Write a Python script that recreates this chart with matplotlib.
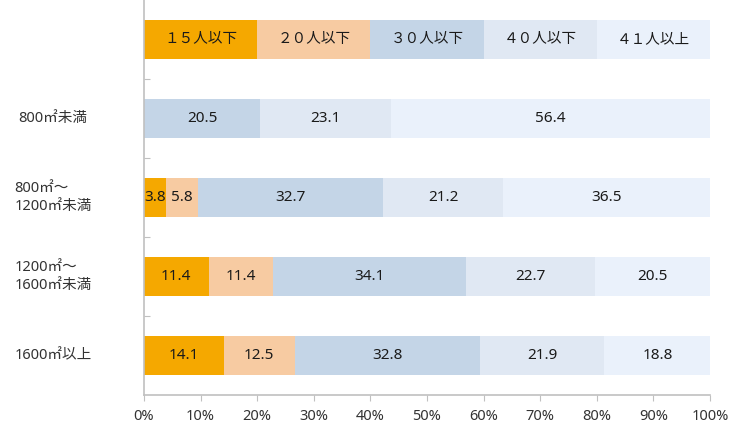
import matplotlib.pyplot as plt
import matplotlib.transforms as mtransforms
import numpy as np

plt.rcParams['font.family'] = ['Noto Sans', 'Noto Sans CJK JP', 'DejaVu Sans']

# rows from top to bottom
row_labels = ['', '800㎡未満', '800㎡～\n1200㎡未満', '1200㎡～\n1600㎡未満', '1600㎡以上']
group_names = ['１５人以下', '２０人以下', '３０人以下', '４０人以下', '４１人以上']
colors = ['#F5A800', '#F7CBA2', '#C4D5E7', '#E0E8F3', '#EAF1FB']

# the top row is the in-chart legend, equal widths
legend_row = [20, 20, 20, 20, 20]
s15 = [0, 3.8, 11.4, 14.1]
s20 = [0, 5.8, 11.4, 12.5]
s30 = [20.5, 32.7, 34.1, 32.8]
s40 = [23.1, 21.2, 22.7, 21.9]
s41 = [56.4, 36.5, 20.5, 18.8]

data = np.array([s15, s20, s30, s40, s41])
data = np.column_stack([legend_row, data])  # shape (5 groups, 5 rows)

fig = plt.figure(figsize=(7.37, 4.24), dpi=100)
ax = fig.add_axes([144 / 737, 1 - 395 / 424, (710 - 144) / 737, 395 / 424])

ypos = np.arange(len(row_labels))
left = np.zeros(len(row_labels))
for g in range(len(group_names)):
    vals = data[g]
    ax.barh(ypos, vals, left=left, height=0.5, color=colors[g], edgecolor='none')
    for r in range(len(row_labels)):
        v = vals[r]
        if v <= 0:
            continue
        cx = left[r] + v / 2
        if r == 0:
            ax.text(cx, ypos[r], group_names[g], ha='center', va='center', fontsize=10.5, color='#1a1a1a')
        else:
            ax.text(cx, ypos[r], f'{v:.1f}', ha='center', va='center', fontsize=11, color='#1a1a1a')
    left += vals

ax.set_xlim(0, 100)
ax.set_ylim(len(row_labels) - 0.5, -0.5)
ax.set_xticks(np.arange(0, 101, 10))
ax.set_xticklabels([f'{t}%' for t in range(0, 101, 10)], fontsize=10.5, color='#333333')
ax.set_yticks(np.arange(0.5, len(row_labels) - 0.5, 1))
ax.set_yticklabels([])
ax.tick_params(axis='y', direction='in', length=4, color='#c0c0c0')
ax.tick_params(axis='x', direction='out', length=4, color='#c0c0c0', pad=6)

for s in ['top', 'right']:
    ax.spines[s].set_visible(False)
for s in ['left', 'bottom']:
    ax.spines[s].set_color('#c0c0c0')
    ax.spines[s].set_linewidth(1.2)

# category labels, placed at a fixed pixel column
trans = mtransforms.blended_transform_factory(fig.transFigure, ax.transData)
for r in range(1, len(row_labels)):
    ax.text(53 / 737, ypos[r], row_labels[r], transform=trans, ha='center', va='center',
            multialignment='left', fontsize=10.5, color='#333333', linespacing=1.2)

fig.savefig('out.png', dpi=100)
